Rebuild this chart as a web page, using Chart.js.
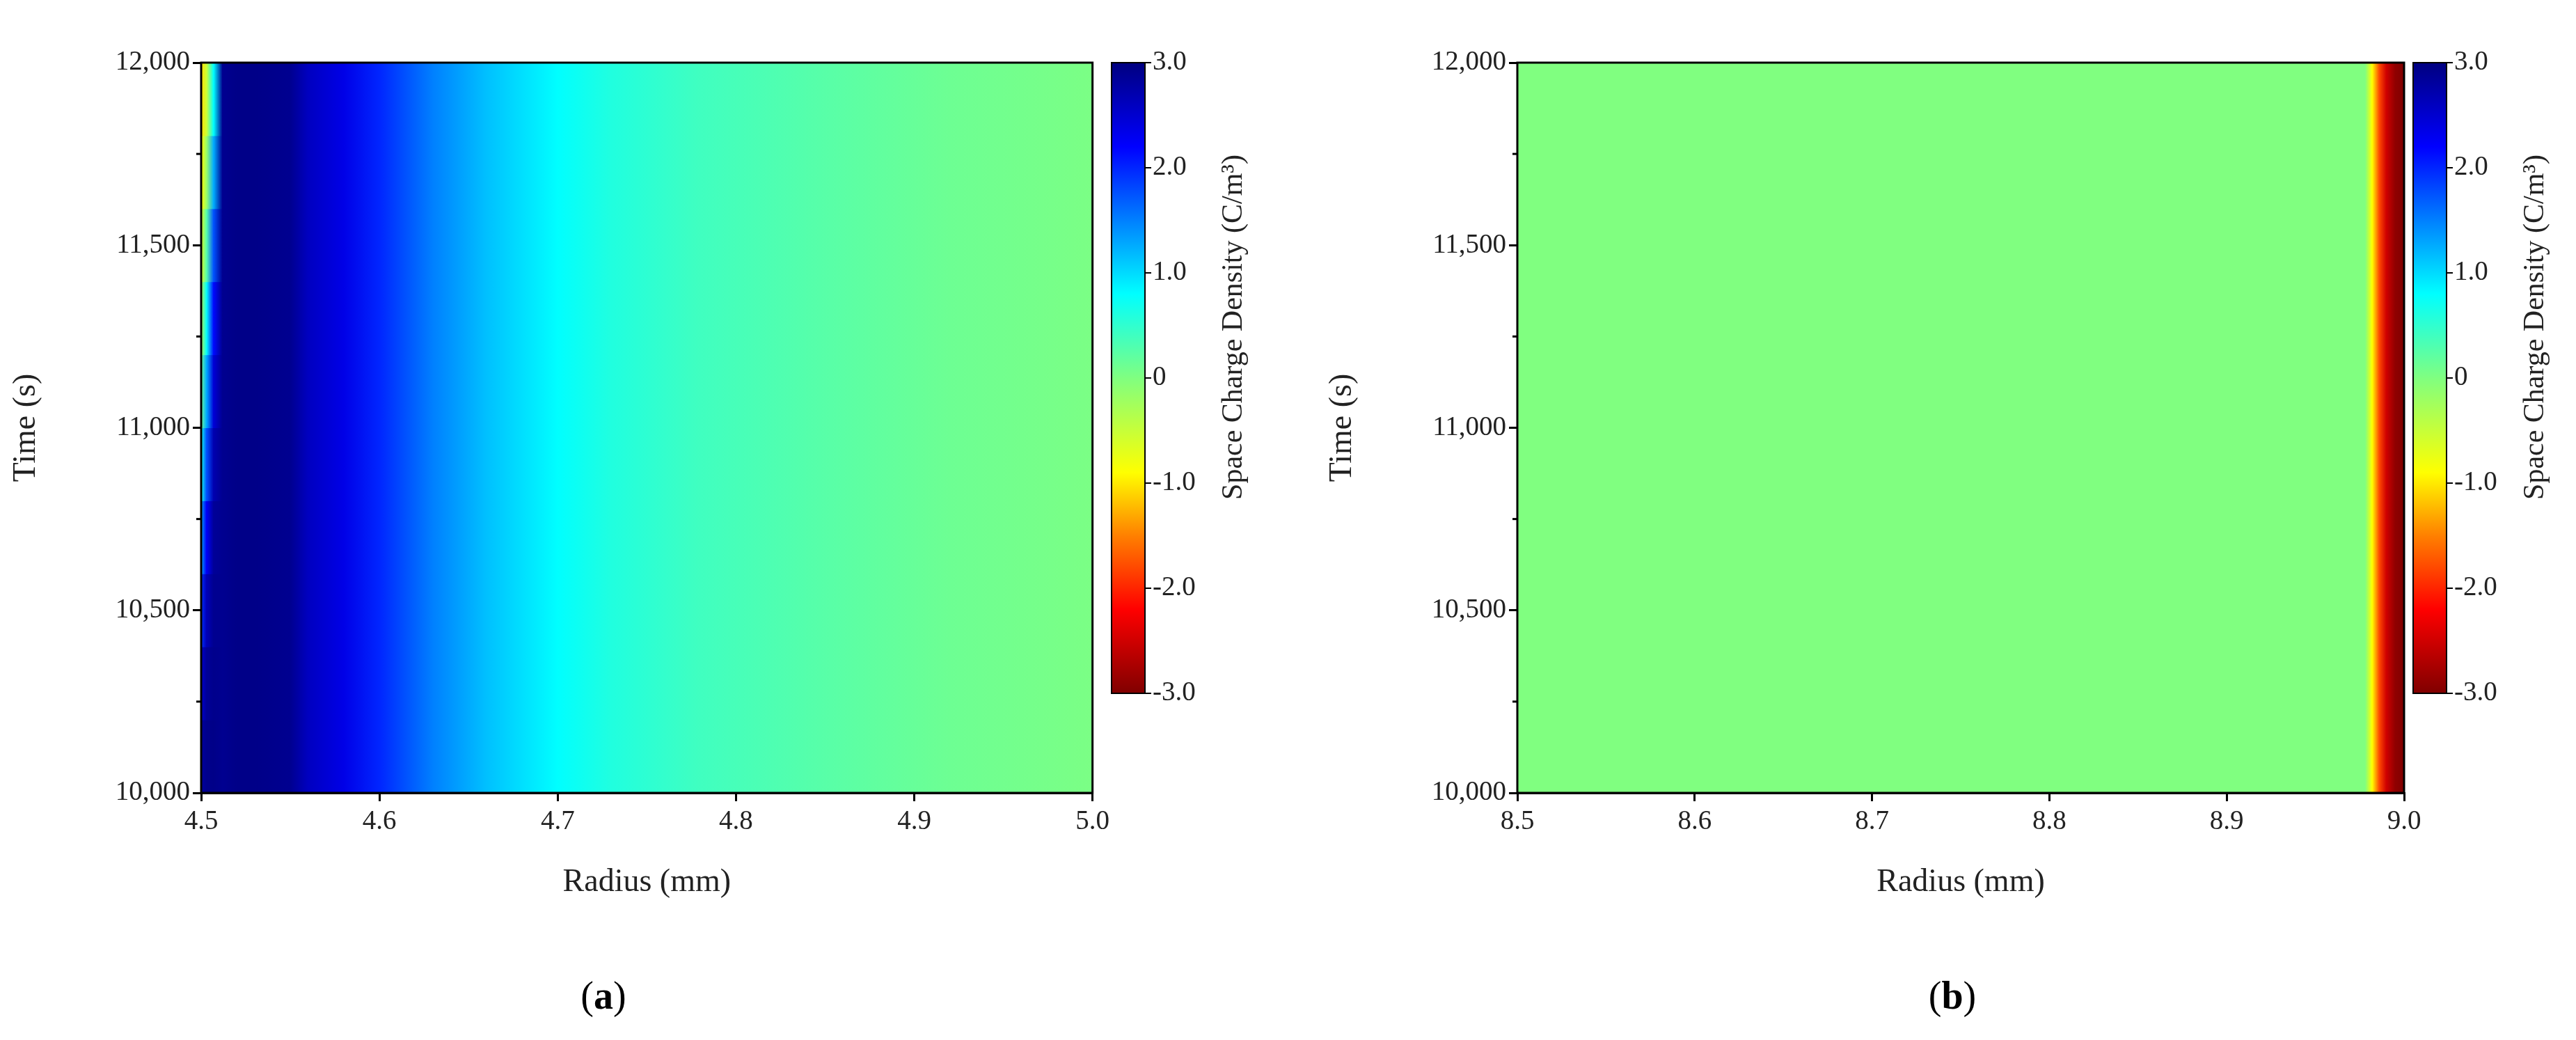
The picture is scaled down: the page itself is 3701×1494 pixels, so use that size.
<!DOCTYPE html>
<html><head><meta charset="utf-8">
<script src="https://cdn.jsdelivr.net/npm/chart.js@4/dist/chart.umd.min.js"></script>
<style>
body{margin:0;background:#fff;width:3701px;height:1494px;position:relative;overflow:hidden;font-family:"Liberation Serif",serif}
canvas{position:absolute}
.lab{position:absolute;font-size:56px;top:1398px;transform:translateX(-50%)}
</style></head><body>
<canvas id="a" width="1600" height="1300" style="left:0;top:0"></canvas>
<canvas id="ca" width="250" height="1300" style="left:1596px;top:0"></canvas>
<canvas id="b" width="1600" height="1300" style="left:1891px;top:0"></canvas>
<canvas id="cb" width="250" height="1300" style="left:3466px;top:0"></canvas>
<div class="lab" style="left:867px">(<b>a</b>)</div>
<div class="lab" style="left:2805px">(<b>b</b>)</div>
<script>
// ---- data ----
const timesA = [10000, 10200, 10400, 10600, 10800, 11000, 11200, 11400, 11600, 11800, 12000];
const radiiA = [4.5, 4.503, 4.507, 4.512, 4.52, 4.53, 4.55, 4.56, 4.58, 4.6, 4.63, 4.66, 4.7, 4.73, 4.78, 4.85, 4.92, 5.0];
const edgeA0 = [2.9, 2.7, 2.3, 1.6, 1.0, 0.4, -0.1, -0.5, -0.8, -1.0, -1.1]; // r=4.500
const edgeA1 = [2.95, 2.9, 2.8, 2.5, 2.0, 1.5, 1.0, 0.5, 0.0, -0.4, -0.7];   // r=4.503
const edgeA2 = [2.95, 2.95, 2.9, 2.9, 2.8, 2.6, 2.3, 2.0, 1.5, 1.0, 0.6];   // r=4.507
const profileA = [null, null, null, 2.9, 2.95, 2.95, 2.9, 2.6, 2.35, 2.0, 1.5, 1.15, 0.8, 0.6, 0.4, 0.25, 0.12, 0.03];
const timesB = [10000, 12000];
const radiiB = [8.5, 8.978, 8.982, 8.986, 8.99, 8.995, 9.0];
const profileB = [0, 0, -0.9, -1.8, -2.5, -2.9, -3.0];
const xTicksA = [4.5, 4.6, 4.7, 4.8, 4.9, 5.0];
const xTicksB = [8.5, 8.6, 8.7, 8.8, 8.9, 9.0];
const yTicks = [10000, 10500, 11000, 11500, 12000];
const cbTicks = [-3, -2, -1, 0, 1, 2, 3];
const cbStops = [[-3,[128,0,0]],[-2.2,[255,0,0]],[-1.5,[255,128,0]],[-0.9,[255,255,0]],[0,[128,255,128]],[0.8,[0,255,255]],[1.5,[0,128,255]],[2.2,[0,0,255]],[3,[0,0,128]]];

function col(v){
  v=Math.max(-3,Math.min(3,v));
  for(let i=0;i<cbStops.length-1;i++){
    const [a,ca]=cbStops[i],[b,cb2]=cbStops[i+1];
    if(v>=a&&v<=b){const t=(v-a)/(b-a);return `rgb(${ca.map((c,k)=>Math.round(c+(cb2[k]-c)*t)).join(',')})`;}
  }
  return 'rgb(0,0,128)';
}
const F='"Liberation Serif", serif';
function valA(ti,ri){ if(ri===0) return edgeA0[ti]; if(ri===1) return edgeA1[ti]; if(ri===2) return edgeA2[ti]; return profileA[ri]; }

function heatPlugin(times,radii,valFn){
  return {id:'heat',beforeDatasetsDraw(ch){
    const c=ch.ctx,x=ch.scales.x,y=ch.scales.y;
    for(let t=0;t<times.length-1;t++){
      const y0=y.getPixelForValue(times[t+1]),y1=y.getPixelForValue(times[t]);
      for(let r=0;r<radii.length-1;r++){
        const x0=x.getPixelForValue(radii[r]),x1=x.getPixelForValue(radii[r+1]);
        const g=c.createLinearGradient(x0,0,x1,0);
        g.addColorStop(0,col((valFn(t,r)+valFn(t+1,r))/2));
        g.addColorStop(1,col((valFn(t,r+1)+valFn(t+1,r+1))/2));
        c.fillStyle=g;c.fillRect(x0-0.5,y0-0.5,x1-x0+1,y1-y0+1);
      }
    }
  },afterDraw(ch){
    const c=ch.ctx,a=ch.chartArea,y=ch.scales.y;
    c.save();c.strokeStyle='#000';c.lineWidth=3;c.strokeRect(a.left,a.top,a.right-a.left,a.bottom-a.top);
    for(let v=10250;v<12000;v+=500){const p=y.getPixelForValue(v);c.beginPath();c.moveTo(a.left,p);c.lineTo(a.left-7,p);c.stroke();}
    c.restore();
  }};
}
function mainChart(id,xmin,xmax,xt,times,radii,valFn,padRight){
  new Chart(document.getElementById(id),{type:'scatter',data:{datasets:[{data:[]}]},
    options:{responsive:false,animation:false,events:[],plugins:{legend:{display:false},tooltip:{enabled:false}},
      layout:{padding:{left:0,top:90,right:padRight,bottom:0}},
      scales:{
        x:{type:'linear',min:xmin,max:xmax,afterBuildTicks(s){s.ticks=xt.map(v=>({value:v}));},afterFit(s){s.height=161;},
           border:{color:'#000',width:3},grid:{drawOnChartArea:false,tickLength:12,color:'#000',lineWidth:3},
           ticks:{color:'#222',font:{family:F,size:39},padding:6,callback:v=>v.toFixed(1)},
           title:{display:true,text:'Radius (mm)',color:'#222',font:{family:F,size:46},padding:{top:18}}},
        y:{type:'linear',min:10000,max:12000,afterBuildTicks(s){s.ticks=yTicks.map(v=>({value:v}));},afterFit(s){s.width=289;},
           border:{color:'#000',width:3},grid:{drawOnChartArea:false,tickLength:12,color:'#000',lineWidth:3},
           ticks:{color:'#222',font:{family:F,size:39},padding:4,callback:v=>v.toLocaleString('en-US')},
           title:{display:true,text:'Time (s)',color:'#222',font:{family:F,size:46},padding:{top:10,bottom:0}}}
      }},plugins:[heatPlugin(times,radii,valFn)]});
}
function cbChart(id){
  new Chart(document.getElementById(id),{type:'scatter',data:{datasets:[{data:[]}]},
    options:{responsive:false,animation:false,events:[],plugins:{legend:{display:false},tooltip:{enabled:false}},
      layout:{padding:{left:0,top:90,right:0,bottom:304}},
      scales:{x:{display:false,min:0,max:1},
        y:{type:'linear',position:'right',min:-3,max:3,afterBuildTicks(s){s.ticks=cbTicks.map(v=>({value:v}));},afterFit(s){s.width=200;},
          border:{display:false},grid:{drawOnChartArea:false,tickLength:8,color:'#000',lineWidth:2},
          ticks:{color:'#222',font:{family:F,size:39},padding:2,callback:v=>v===0?'0':v.toFixed(1)}}}},
    plugins:[{id:'bar',beforeDatasetsDraw(ch){
      const c=ch.ctx,a=ch.chartArea,y=ch.scales.y;
      const g=c.createLinearGradient(0,y.getPixelForValue(-3),0,y.getPixelForValue(3));
      cbStops.forEach(([v,cc])=>g.addColorStop((v+3)/6,`rgb(${cc.join(',')})`));
      c.fillStyle=g;c.fillRect(a.left,a.top,a.right-a.left,a.bottom-a.top);
      c.strokeStyle='#000';c.lineWidth=2;c.strokeRect(a.left+1,a.top,a.right-a.left-2,a.bottom-a.top);
      c.save();c.translate(177,470);c.rotate(-Math.PI/2);c.fillStyle='#222';c.font='42px '+F;c.textAlign='center';c.textBaseline='middle';
      c.fillText('Space Charge Density (C/m³)',0,0);c.restore();
    }}]});
}
mainChart('a',4.5,5.0,xTicksA,timesA,radiiA,valA,15);
mainChart('b',8.5,9.0,xTicksB,timesB,radiiB,(t,r)=>profileB[r],37);
cbChart('ca');cbChart('cb');
</script></body></html>
